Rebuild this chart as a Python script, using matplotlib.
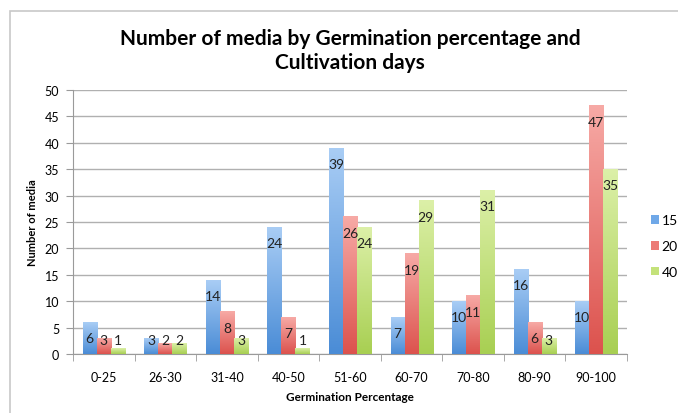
import matplotlib
matplotlib.use("Agg")
import matplotlib.pyplot as plt
import numpy as np
from matplotlib.colors import LinearSegmentedColormap
from matplotlib.patches import Rectangle, Patch

categories = ["0-25", "26-30", "31-40", "40-50", "51-60", "60-70", "70-80", "80-90", "90-100"]
series_names = ["15", "20", "40"]
s15 = [6, 3, 14, 24, 39, 7, 10, 16, 10]
s20 = [3, 2, 8, 7, 26, 19, 11, 6, 47]
s40 = [1, 2, 3, 1, 24, 29, 31, 3, 35]
series = [s15, s20, s40]

top_colors = ["#a9cdf5", "#f7aaa6", "#dcf0a8"]
bot_colors = ["#4a8cd6", "#dc524d", "#a8cf52"]
mid_colors = ["#6fa8e8", "#ec7a75", "#c4e27a"]

plt.rcParams['font.family'] = ['Lato', 'DejaVu Sans']

fig = plt.figure(figsize=(6.78, 4.14), dpi=100)
ax = fig.add_axes([73/678, 1-355/414, (627-73)/678, (355-91)/414])

n = len(categories)
x = np.arange(n)
w = 0.228
for i, vals in enumerate(series):
    cmap = LinearSegmentedColormap.from_list("g%d" % i, [bot_colors[i], top_colors[i]])
    grad = np.linspace(0, 1, 256).reshape(-1, 1)
    for j, v in enumerate(vals):
        x0 = x[j] + (i - 1) * w - w / 2
        ax.imshow(grad, extent=(x0, x0 + w, 0, v), origin='lower', cmap=cmap,
                  aspect='auto', zorder=3, interpolation='bilinear')
        ax.text(x0 + w / 2, max(v - 3.0, 2.6), str(v), ha='center', va='center',
                fontsize=10, color='#222222', zorder=4)

ax.set_xlim(-0.5, n - 0.5)
ax.set_ylim(0, 50)
ax.set_yticks(np.arange(0, 51, 5))
ax.set_xticks(x)
ax.set_xticklabels(categories, fontsize=9)
ax.set_xticks(np.arange(-0.5, n, 1), minor=True)
ax.tick_params(axis='x', which='major', length=0, pad=12)
ax.tick_params(axis='x', which='minor', length=5, color='#9a9a9a')
ax.tick_params(axis='y', length=5, color='#9a9a9a', labelsize=9, pad=5)
ax.grid(axis='y', color='#b0b0b0', linewidth=1.0, zorder=0)
ax.set_axisbelow(True)
for s in ['top', 'right']:
    ax.spines[s].set_visible(False)
for s in ['left', 'bottom']:
    ax.spines[s].set_color('#9a9a9a')

fig.text(32/678, 1 - 223/414, "Number of media", rotation=90, ha='center', va='center',
         fontsize=8, fontweight='bold')
fig.text(350/678, 1 - 398/414, "Germination Percentage", ha='center', va='center',
         fontsize=8.5, fontweight='bold')

fig.text(350/678, 1 - 51/414, "Number of media by Germination percentage and\nCultivation days",
         ha='center', va='center', fontsize=15, fontweight='bold', linespacing=1.3)

handles = [Patch(facecolor=mid_colors[i]) for i in range(3)]
ax.legend(handles, series_names, loc='center left', bbox_to_anchor=(651/678, 1 - 247/414),
          bbox_transform=fig.transFigure,
          frameon=False, fontsize=10, handlelength=0.6, handleheight=0.6,
          handletextpad=0.15, labelspacing=1.0, borderaxespad=0, borderpad=0)

fig.patches.append(Rectangle((10/678, -0.05), 1.1, 1.05 - 12/414, transform=fig.transFigure,
                             fill=False, edgecolor='#c8c8c8', linewidth=1.2))

fig.savefig("out.png", dpi=100)
